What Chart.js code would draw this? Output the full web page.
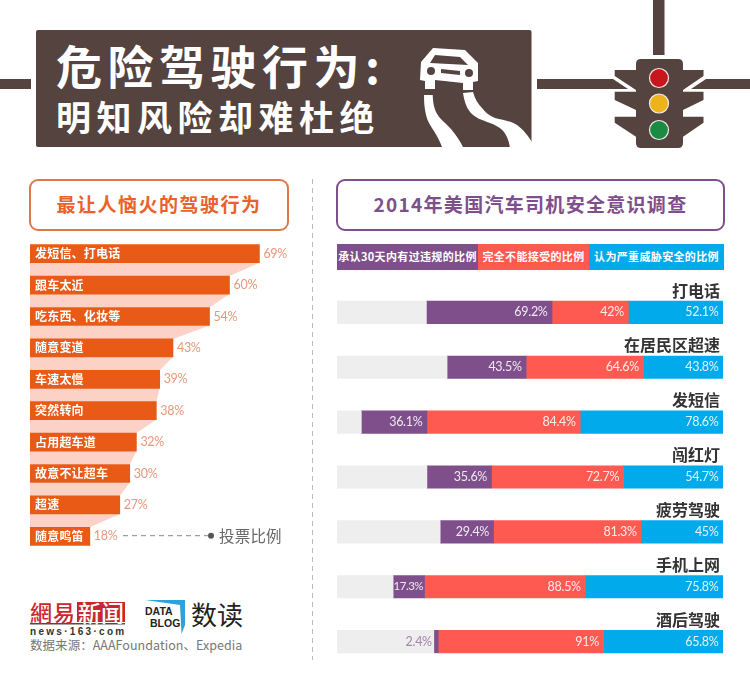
<!DOCTYPE html>
<html>
<head>
<meta charset="utf-8">
<script src="https://cdn.jsdelivr.net/npm/chart.js@4"></script>
<style>
  html, body { margin: 0; padding: 0; background: #fff; }
  body { position: relative; width: 750px; height: 693px; overflow: hidden; font-family: "Noto Sans CJK SC", sans-serif; }
  .abs { position: absolute; white-space: nowrap; }
  canvas { position: absolute; display: block; }
  #art { position: absolute; left: 0; top: 0; }
  .title1 { left: 56px; top: 30px; font-size: 46px; line-height: 68px; font-weight: 700; color: #fff; letter-spacing: 5.5px; }
  .title2 { left: 56px; top: 90px; font-size: 35px; line-height: 52px; font-weight: 700; color: #fff; letter-spacing: 5.5px; }
  .box { box-sizing: border-box; height: 52px; top: 179px; border-radius: 9px; border: 2px solid; text-align: center; font-size: 19px; line-height: 46px; font-weight: 700; letter-spacing: 1.3px; background: #fff; }
  #boxL { left: 29px; width: 260px; border-color: #e2764b; color: #e8622a; letter-spacing: 1.5px; }
  #boxR { left: 336px; width: 389px; border-color: #7f4f8c; color: #7f4f8c; }
  #legend { left: 337px; top: 244px; height: 26px; display: flex; }
  #legend div { height: 26px; line-height: 25px; color: #fff; font-size: 11px; font-weight: 700; text-align: center; letter-spacing: .35px; }
  .note { left: 219px; top: 523px; font-size: 15.5px; line-height: 24px; color: #666; letter-spacing: .2px; }
  .src { left: 30px; top: 636px; font-size: 12.5px; line-height: 18px; color: #777; letter-spacing: .05px; }
  .wy1 { left: 30px; top: 596px; font-size: 22px; line-height: 30px; color: #c8282c; font-weight: 500; font-family: "Noto Sans CJK TC"; letter-spacing: 1px; }
  .wy2 { left: 78px; top: 598px; font-size: 23px; line-height: 28px; color: #fff; font-weight: 500; font-family: "Noto Sans CJK TC"; }
  .wy3 { left: 30px; top: 625px; font-size: 10px; line-height: 13px; color: #333; font-weight: 700; font-family: "Liberation Sans"; letter-spacing: 2.3px; }
  .db { font-family: "Liberation Sans"; font-weight: 700; color: #222; font-size: 10.5px; line-height: 11px; text-align: right; }
  .sd { left: 191px; top: 596px; font-size: 26px; line-height: 36px; color: #222; font-weight: 400; }
</style>
</head>
<body>

<svg id="art" width="750" height="693" xmlns="http://www.w3.org/2000/svg">
  <!-- road lines -->
  <rect x="0" y="79" width="31" height="10" fill="#54433e"/>
  <path d="M537 79 L613 79 L628 89 L537 89Z" fill="#54433e"/>
  <path d="M706 79 L750 79 L750 89 L691 89Z" fill="#54433e"/>
  <rect x="653" y="0" width="11.500" height="55" fill="#54433e"/>
  <!-- title plate -->
  <rect x="36" y="30" width="495.500" height="117" rx="2" fill="#54433e"/>
  <!-- skid marks -->
  <path d="M424 95 L432.700 95 C433 103 434 107 436 112 C440 120 446 123 451 129 C456 135 460 141 463 147 L442 147 C439 138 433 130 429 123 C425 115 424 105 424 95Z" fill="#fff"/>
  <path d="M463 93 L473 92 C475 99 478 104 482 108 C486 113 490 116 495 118 C503 120 511 121 517 125 C524 130 528 136 532 142 L532 148 L510 148 C509 141 507 136 504 132 C500 127 495 125 490 123 C482 120 475 118 470 112 C466 107 464 100 463 93Z" fill="#fff"/>
  <!-- car -->
  <path d="M433 48 L465 50 L478 63 L478 81 L473 82 L473 90 L463 90 L463 83 L435 80 L435 89 L425 89 L425 81 L420 80 L421 62 Z" fill="#fff"/>
  <path d="M435 55 L460 57 L468 65 L430 63 Z" fill="#54433e"/>
  <circle cx="431" cy="71" r="4" fill="#54433e"/>
  <circle cx="469" cy="73" r="4" fill="#54433e"/>
  <path d="M441 69 L460 71 L460 75 L441 73Z" fill="#54433e"/>
  <!-- traffic light -->
  <path d="M641 59 L678 59 Q683 59 683 64 L683 70 L703.500 70 L703.500 76 L683 90 L683 91.700 L703.500 91.700 L703.500 100 L683 110 L683 116.700 L703.500 116.700 L703.500 122.700 L683 136.700 L683 143 Q683 148 678 148 L641 148 Q636 148 636 143 L636 136.700 L614.700 122.700 L614.700 116.700 L636 116.700 L636 110 L614.700 100 L614.700 91.700 L636 91.700 L636 90 L614.700 76 L614.700 70 L636 70 L636 64 Q636 59 641 59Z" fill="#54433e"/>
  <circle cx="659" cy="78" r="9.500" fill="#c8161d" stroke="#f3ebe6" stroke-width="1.200"/>
  <circle cx="659" cy="103.500" r="9.500" fill="#eeb21b" stroke="#f3ebe6" stroke-width="1.200"/>
  <circle cx="659" cy="130" r="9.500" fill="#1a8a45" stroke="#f3ebe6" stroke-width="1.200"/>
  <!-- divider -->
  <line x1="312.500" y1="179" x2="312.500" y2="660" stroke="#bbb" stroke-width="1" stroke-dasharray="5 4"/>
  <!-- vote note -->
  <line x1="123" y1="535.700" x2="208" y2="535.700" stroke="#888" stroke-width="1" stroke-dasharray="5 4"/>
  <circle cx="211" cy="535.700" r="3" fill="#555"/>
  <!-- logos -->
  <rect x="77" y="602" width="48" height="20" fill="#c8282c"/>
  <rect x="30" y="623" width="95" height="1.500" fill="#5a4a46"/>
  <path d="M145 600 L185 600 L185 625 L181.500 634 L180 605 Z" fill="#2aa3dc"/>
</svg>

<div class="abs title1">危险驾驶行为:</div>
<div class="abs title2">明知风险却难杜绝</div>

<div class="abs box" id="boxL">最让人恼火的驾驶行为</div>
<div class="abs box" id="boxR">2014年美国汽车司机安全意识调查</div>
<div class="abs" id="legend"></div>

<canvas id="left" width="266" height="314" style="left:30px;top:238px"></canvas>
<canvas id="right" width="386" height="399" style="left:337px;top:270px"></canvas>

<div class="abs note">投票比例</div>
<div class="abs wy1">網易</div>
<div class="abs wy2">新闻</div>
<div class="abs wy3">news·163·com</div>
<div class="abs db" style="left:145px;top:606px;width:20px">DATA</div>
<div class="abs db" style="left:150px;top:618px;width:27px">BLOG</div>
<div class="abs sd">数读</div>
<div class="abs src">数据来源：AAAFoundation、Expedia</div>

<script>
// left chart
var behaviours = ["发短信、打电话", "跟车太近", "吃东西、化妆等", "随意变道", "车速太慢", "突然转向", "占用超车道", "故意不让超车", "超速", "随意鸣笛"];
var votes = [69, 60, 54, 43, 39, 38, 32, 30, 27, 18];

// right chart
var violations = ["打电话", "在居民区超速", "发短信", "闯红灯", "疲劳驾驶", "手机上网", "酒后驾驶"];
var admitted = [69.2, 43.5, 36.1, 35.6, 29.4, 17.3, 2.4];
var unacceptable = [42, 64.6, 84.4, 72.7, 81.3, 88.5, 91];
var threat = [52.1, 43.8, 78.6, 54.7, 45, 75.8, 65.8];
var legendNames = ["承认30天内有过违规的比例", "完全不能接受的比例", "认为严重威胁安全的比例"];
var legendWidths = [141, 111, 135];

var PURPLE = "#7f4f8c", RED = "#ff5a52", BLUE = "#00aaeb", TRACK = "#eeeeee";
var ORANGE = "#e95a16", PINK = "#fdd2c6";
var AXIS_TOTAL = 212.5;

var cjk = '"Noto Sans CJK SC"';

legendNames.forEach(function(n, i) {
  var d = document.createElement("div");
  d.textContent = n;
  d.style.width = legendWidths[i] + "px";
  d.style.background = [PURPLE, RED, BLUE][i];
  document.getElementById("legend").appendChild(d);
});

// pink band between the orange bars + text on the bars
var funnelPlugin = {
  id: "funnel",
  beforeDatasetsDraw: function(chart) {
    var c = chart.ctx, x = chart.scales.x, bars = chart.getDatasetMeta(0).data;
    c.save();
    c.fillStyle = PINK;
    for (var i = 0; i < bars.length - 1; i++) {
      var y0 = bars[i].y + bars[i].height / 2;
      var y1 = bars[i + 1].y - bars[i + 1].height / 2;
      c.beginPath();
      c.moveTo(x.getPixelForValue(0), y0);
      c.lineTo(x.getPixelForValue(votes[i]), y0);
      c.lineTo(x.getPixelForValue(votes[i + 1]), y1);
      c.lineTo(x.getPixelForValue(0), y1);
      c.closePath();
      c.fill();
    }
    c.restore();
  },
  afterDatasetsDraw: function(chart) {
    var c = chart.ctx, bars = chart.getDatasetMeta(0).data;
    c.save();
    c.textBaseline = "middle";
    bars.forEach(function(b, i) {
      c.fillStyle = "#fff";
      c.font = "700 12px " + cjk;
      c.letterSpacing = "0.2px";
      c.fillText(behaviours[i], 5, b.y);
      c.fillStyle = "#e9977a";
      c.font = "12.5px Lato";
      c.letterSpacing = "-0.3px";
      c.fillText(votes[i] + "%", b.x + 4, b.y);
    });
    c.restore();
  }
};

new Chart(document.getElementById("left"), {
  type: "bar",
  data: {
    labels: behaviours,
    datasets: [{ data: votes, backgroundColor: ORANGE, barThickness: 18 }]
  },
  options: {
    indexAxis: "y",
    responsive: false,
    animation: false,
    plugins: { legend: { display: false }, tooltip: { enabled: false } },
    scales: {
      x: { display: false, min: 0, max: 80 },
      y: { display: false }
    }
  },
  plugins: [funnelPlugin]
});

// stacks sit against the right end, grey fills what is left of the track
var spacer = admitted.map(function(v, i) {
  return AXIS_TOTAL - v - unacceptable[i] - threat[i];
});

var rowTextPlugin = {
  id: "rowText",
  afterDatasetsDraw: function(chart) {
    var c = chart.ctx;
    c.save();
    c.textBaseline = "middle";
    violations.forEach(function(name, i) {
      var first = chart.getDatasetMeta(1).data[i];
      c.textAlign = "right";
      c.fillStyle = "#333";
      c.letterSpacing = "0px";
      c.font = "700 16px " + cjk;
      c.fillText(name, chart.width - 3, first.y - 22);
      [[1, admitted], [2, unacceptable], [3, threat]].forEach(function(s) {
        var bar = chart.getDatasetMeta(s[0]).data[i];
        var v = s[1][i];
        var txt = v + "%";
        c.font = "12.5px Lato";
        c.letterSpacing = "-0.3px";
        if (s[0] == 1 && v < 5) {
          // too thin, label goes out on the grey
          c.fillStyle = "#a583b0";
          c.fillText(txt, bar.base - 2, bar.y);
        } else {
          var room = (bar.x - bar.base - c.measureText(txt).width) / 2;
          if (room < 2) {
            // squeeze it so it stays inside its segment
            c.font = "11.5px Lato";
            c.letterSpacing = "-0.5px";
            room = 1.5;
          }
          c.fillStyle = "#fff";
          c.globalAlpha = 0.88;
          c.fillText(txt, bar.x - Math.min(4.5, room), bar.y);
          c.globalAlpha = 1;
        }
      });
    });
    c.restore();
  }
};

new Chart(document.getElementById("right"), {
  type: "bar",
  data: {
    labels: violations,
    datasets: [
      { data: spacer, backgroundColor: TRACK },
      { data: admitted, backgroundColor: PURPLE },
      { data: unacceptable, backgroundColor: RED },
      { data: threat, backgroundColor: BLUE }
    ]
  },
  options: {
    indexAxis: "y",
    responsive: false,
    animation: false,
    datasets: { bar: { barThickness: 22.5 } },
    layout: { padding: { top: 15 } },
    plugins: { legend: { display: false }, tooltip: { enabled: false } },
    scales: {
      x: { display: false, stacked: true, min: 0, max: AXIS_TOTAL },
      y: { display: false, stacked: true }
    }
  },
  plugins: [rowTextPlugin]
});
</script>
</body>
</html>
